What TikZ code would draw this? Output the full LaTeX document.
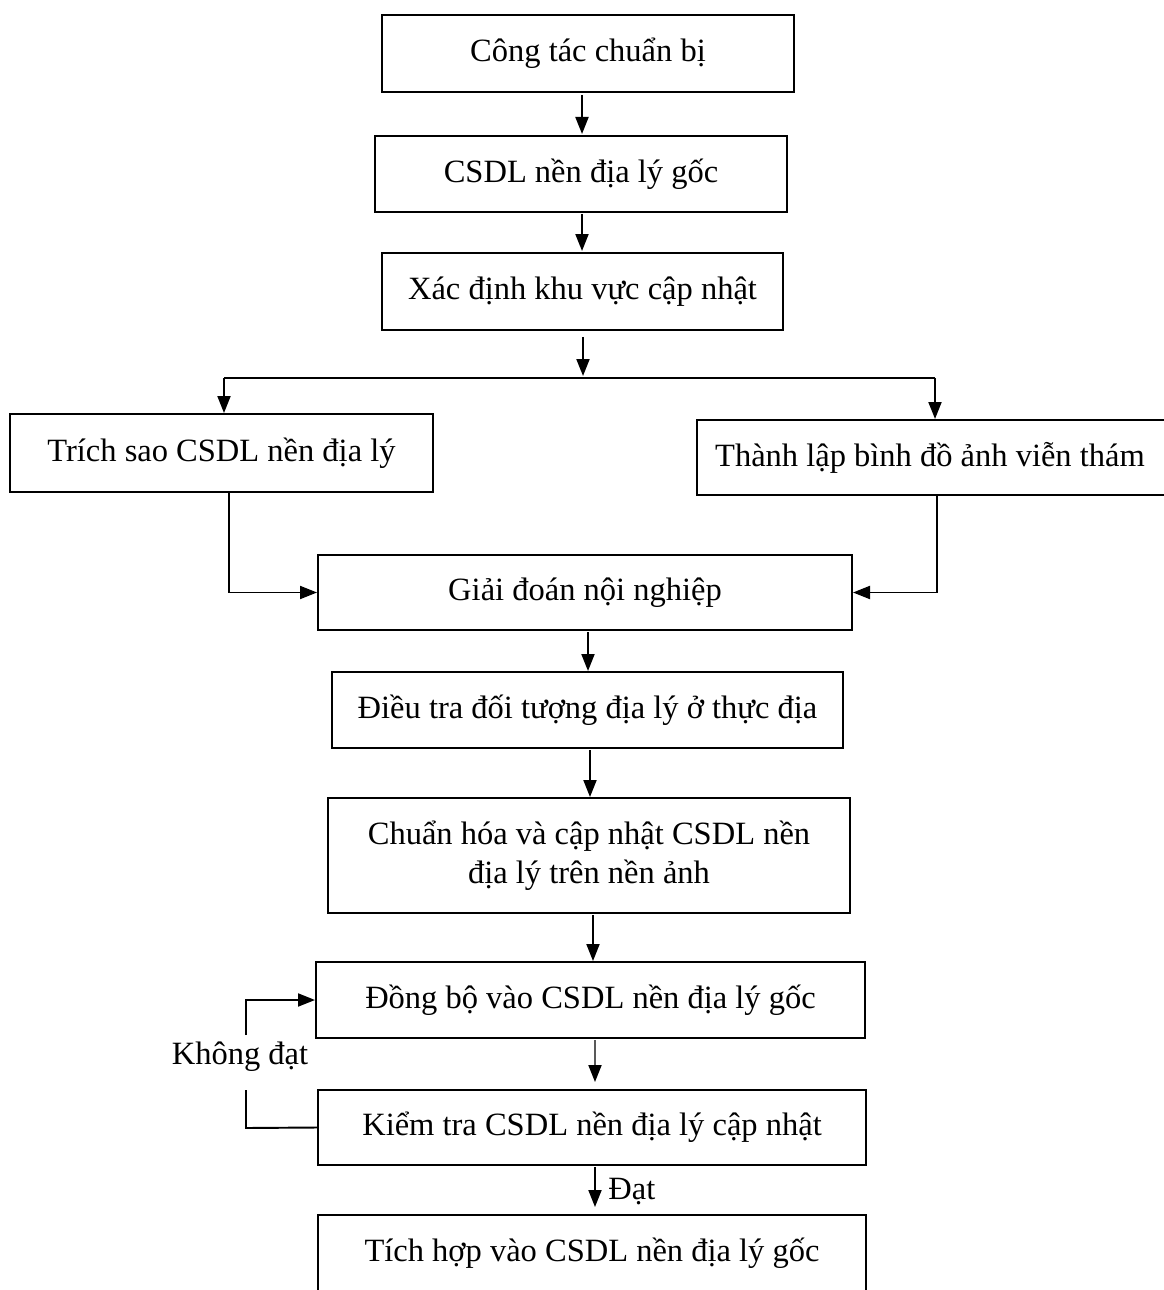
\documentclass[tikz,border=0pt]{standalone}
\usepackage{fontspec}
\setmainfont{Liberation Serif}
\usetikzlibrary{arrows.meta}
\begin{document}
\begin{tikzpicture}[x=0.02cm,y=-0.02cm,
  box/.style={draw=black,line width=1.2pt,inner sep=0pt,align=center,
    font=\fontsize{18.5}{22}\selectfont},
  lbl/.style={inner sep=0pt,font=\fontsize{18.5}{22}\selectfont},
  conn/.style={line width=1.1pt},
  arr/.style={line width=1.1pt,-{Triangle[length=0.34cm,width=0.26cm,color=black]}}]
\useasboundingbox (0,0) rectangle (1163,1290);
\fill[white] (0,0) rectangle (1163,1290);
\node[box,minimum width=8.24cm,minimum height=1.54cm] (b1) at (588,53.5) {Công tác chuẩn bị};
\node[box,minimum width=8.24cm,minimum height=1.52cm] (b2) at (581,174) {CSDL nền địa lý gốc};
\node[box,minimum width=8.02cm,minimum height=1.54cm] (b3) at (582.5,291.5) {Xác định khu vực cập nhật};
\node[box,minimum width=8.46cm,minimum height=1.56cm] (b4) at (221.5,453) {Trích sao CSDL nền địa lý};
\node[box,minimum width=9.46cm,minimum height=1.5cm] (b5) at (933.5,457.5) {\hspace*{-4pt}Thành lập bình đồ ảnh viễn thám};
\node[box,minimum width=10.68cm,minimum height=1.5cm] (b6) at (585,592.5) {Giải đoán nội nghiệp};
\node[box,minimum width=10.22cm,minimum height=1.52cm] (b7) at (587.5,710) {Điều tra đối tượng địa lý ở thực địa};
\node[box,minimum width=10.44cm,minimum height=2.3cm] (b8) at (589,855.5) {Chuẩn hóa và cập nhật CSDL nền\\địa lý trên nền ảnh};
\node[box,minimum width=10.98cm,minimum height=1.52cm] (b9) at (590.5,1000) {Đồng bộ vào CSDL nền địa lý gốc};
\node[box,minimum width=10.96cm,minimum height=1.5cm] (b10) at (592,1127.5) {Kiểm tra CSDL nền địa lý cập nhật};
\node[box,minimum width=10.96cm,minimum height=1.8cm] (b11) at (592,1260) {};
\node[lbl] (t11) at (592,1253) {Tích hợp vào CSDL nền địa lý gốc};
% connectors
\draw[arr] (582,95) -- (582,134);
\draw[arr] (582,214) -- (582,251);
\coordinate (split) at (583,378);
\draw[arr] (583,337) -- (583,376);
\draw[conn] (224,378) -- (935,378);
\draw[arr] (224,378) -- (224,413);
\draw[arr] (935,378) -- (935,419);
\draw[arr] (229,493) |- (b6.west);
\draw[arr] (937,496) |- (b6.east);
\draw[arr] (588,632) -- (588,671);
\draw[arr] (590,750) -- (590,797);
\draw[arr] (593,915) -- (593,961);
\draw[arr,draw=black!65] (595,1040) -- (595,1082);
\draw[arr] (595,1167) -- (595,1207);
\node[lbl,anchor=west] (dat) at (608,1192) {Đạt};
\node[lbl] (kd) at (240,1057) {Không đạt};
\draw[conn] (b10.west) -- (246,1128) -- (246,1090);
\draw[arr] (246,1035) -- (246,1000) -- (b9.west);
\end{tikzpicture}
\end{document}
